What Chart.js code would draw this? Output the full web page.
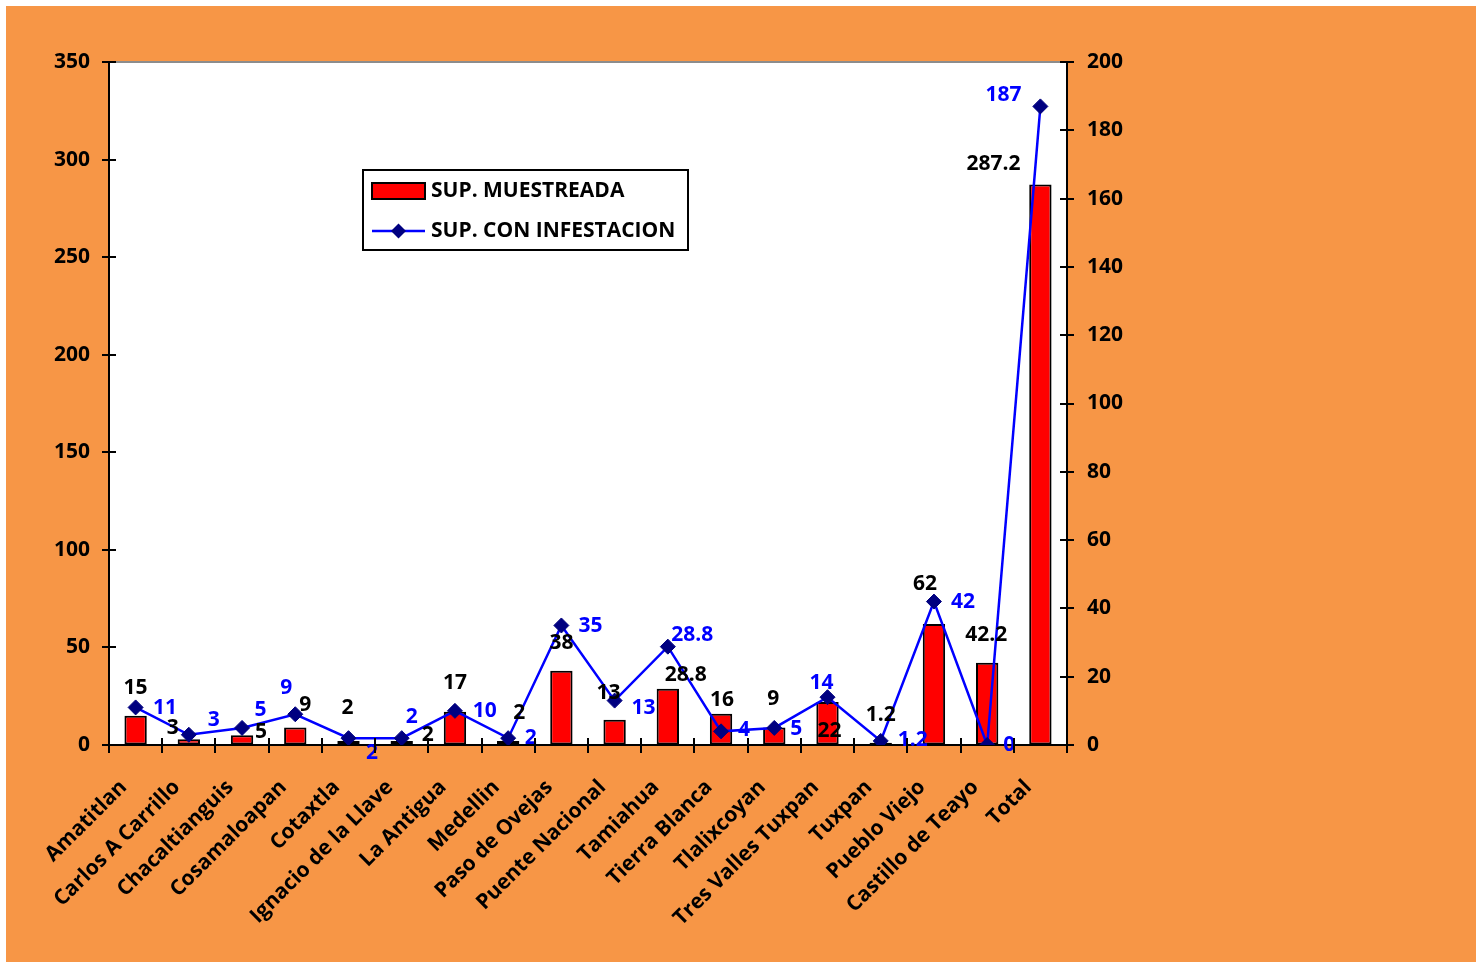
<!DOCTYPE html>
<html>
<head>
<meta charset="utf-8">
<script src="https://cdn.jsdelivr.net/npm/chart.js@4.4.1/dist/chart.umd.min.js"></script>
<style>
html,body{margin:0;padding:0;background:#ffffff;}
canvas{display:block;}
</style>
</head>
<body>
<canvas id="c" width="1476" height="962"></canvas>
<script>
// ---------- DATA ----------
const categories = ['Amatitlan','Carlos A Carrillo','Chacaltianguis','Cosamaloapan','Cotaxtla','Ignacio de la Llave','La Antigua','Medellin','Paso de Ovejas','Puente Nacional','Tamiahua','Tierra Blanca','Tlalixcoyan','Tres Valles Tuxpan','Tuxpan','Pueblo Viejo','Castillo de Teayo','Total'];
const supMuestreada = [15, 3, 5, 9, 2, 2, 17, 2, 38, 13, 28.8, 16, 9, 22, 1.2, 62, 42.2, 287.2];
const supInfestacion = [11, 3, 5, 9, 2, 2, 10, 2, 35, 13, 28.8, 4, 5, 14, 1.2, 42, 0, 187];
const seriesNames = ['SUP. MUESTREADA', 'SUP. CON INFESTACION'];
const leftAxisTicks = [0, 50, 100, 150, 200, 250, 300, 350];
const rightAxisTicks = [0, 20, 40, 60, 80, 100, 120, 140, 160, 180, 200];

// ---------- STYLE (label nudges in px, relative to the mark) ----------
const barLabelDX = [0, -16, 19, 10, -1, 26, 0, 11, 0, -6, 18, 1, -1, 2, 0, -9, -1, -47];
const barLabelDY = [-28, -11.5, -3, -22, -33.5, -6.5, -29, -28.5, -28, -27, -14, -14, -28, 28.5, -28, -40, -28, -21];
const lineLabelDX = [29.5, 25, 18.5, -9, 23.5, 10, 29.7, 22.5, 29, 29, 24.5, 23, 22, -6, 32, 29, 22, -37];
const lineLabelDY = [1, -15, -17.5, -26, 15, -20.7, 0, 0, 1, 7.5, -11.5, -1, 1.5, -13.7, -1, 0, 0, -11.5];

const FONT = '"Open Sans", "Noto Sans", sans-serif';
const ORANGE = '#F79646';

const bgPlugin = {
  id: 'bg',
  beforeDraw(chart) {
    const {ctx, chartArea: a} = chart;
    ctx.save();
    ctx.fillStyle = '#ffffff';
    ctx.fillRect(0, 0, chart.width, chart.height);
    ctx.fillStyle = ORANGE;
    ctx.fillRect(6, 6, chart.width - 6, chart.height - 6);
    ctx.fillStyle = '#ffffff';
    ctx.fillRect(a.left, a.top, a.right - a.left, a.bottom - a.top);
    ctx.strokeStyle = '#8c8c8c';
    ctx.lineWidth = 2;
    ctx.beginPath();
    ctx.moveTo(a.left, a.top);
    ctx.lineTo(a.right, a.top);
    ctx.stroke();
    ctx.restore();
  }
};

const tickPlugin = {
  id: 'crossTicks',
  afterDraw(chart) {
    const {ctx, chartArea: a} = chart;
    const sy = chart.scales.y, sy1 = chart.scales.y1, sx = chart.scales.x;
    ctx.save();
    ctx.strokeStyle = '#000';
    ctx.lineWidth = 2;
    ctx.beginPath();
    leftAxisTicks.forEach(v => {
      const p = Math.round(sy.getPixelForValue(v));
      ctx.moveTo(a.left - 7, p); ctx.lineTo(a.left + 7, p);
    });
    rightAxisTicks.forEach(v => {
      const p = Math.round(sy1.getPixelForValue(v));
      ctx.moveTo(a.right - 7, p); ctx.lineTo(a.right + 7, p);
    });
    for (let i = 0; i <= categories.length; i++) {
      let p;
      if (i === 0) p = a.left;
      else if (i === categories.length) p = a.right;
      else p = Math.round((sx.getPixelForValue(i - 1) + sx.getPixelForValue(i)) / 2);
      ctx.moveTo(p, a.bottom - 7); ctx.lineTo(p, a.bottom + 8);
    }
    ctx.stroke();
    ctx.restore();
  }
};

const labelPlugin = {
  id: 'dataLabels',
  afterDatasetsDraw(chart) {
    const {ctx} = chart;
    ctx.save();
    ctx.font = 'bold 21px ' + FONT;
    ctx.textAlign = 'center';
    ctx.textBaseline = 'middle';
    const barMeta = chart.getDatasetMeta(0);
    const lineMeta = chart.getDatasetMeta(1);
    ctx.fillStyle = '#000000';
    barMeta.data.forEach((el, i) => {
      ctx.fillText(String(supMuestreada[i]), el.x + barLabelDX[i], el.y + barLabelDY[i]);
    });
    ctx.fillStyle = '#0000FF';
    lineMeta.data.forEach((el, i) => {
      ctx.fillText(String(supInfestacion[i]), el.x + lineLabelDX[i], el.y + lineLabelDY[i]);
    });
    ctx.restore();
  }
};

const legendPlugin = {
  id: 'customLegend',
  afterDraw(chart) {
    const {ctx} = chart;
    const bx = 363, by = 170, bw = 325, bh = 80;
    ctx.save();
    ctx.fillStyle = '#ffffff';
    ctx.fillRect(bx, by, bw, bh);
    ctx.strokeStyle = '#000';
    ctx.lineWidth = 2;
    ctx.strokeRect(bx, by, bw, bh);
    ctx.fillStyle = '#FF0000';
    ctx.fillRect(372, 183, 53, 16);
    ctx.strokeRect(372, 183, 53, 16);
    ctx.strokeStyle = '#0000FF';
    ctx.lineWidth = 2.5;
    ctx.beginPath();
    ctx.moveTo(372, 231); ctx.lineTo(425, 231);
    ctx.stroke();
    ctx.fillStyle = '#000080';
    ctx.beginPath();
    const cx = 398.5, cy = 231, r = 7.5;
    ctx.moveTo(cx - r, cy); ctx.lineTo(cx, cy - r); ctx.lineTo(cx + r, cy); ctx.lineTo(cx, cy + r); ctx.closePath();
    ctx.fill();
    ctx.fillStyle = '#000';
    ctx.font = 'bold 21px ' + FONT;
    ctx.textAlign = 'left';
    ctx.textBaseline = 'middle';
    ctx.fillText(seriesNames[0], 431, 191);
    ctx.fillText(seriesNames[1], 431, 231);
    ctx.restore();
  }
};

const tickFont = {family: FONT, weight: 'bold', size: 21};

new Chart(document.getElementById('c'), {
  type: 'bar',
  data: {
    labels: categories,
    datasets: [
      {
        type: 'bar',
        label: seriesNames[0],
        data: supMuestreada,
        yAxisID: 'y',
        backgroundColor: '#FF0000',
        borderColor: '#000000',
        borderWidth: 2,
        borderSkipped: false,
        categoryPercentage: 1,
        barPercentage: 0.42,
        order: 2
      },
      {
        type: 'line',
        label: seriesNames[1],
        data: supInfestacion,
        yAxisID: 'y1',
        borderColor: '#0000FF',
        borderWidth: 2.5,
        tension: 0,
        pointStyle: 'rectRot',
        pointRadius: 7.5,
        pointBackgroundColor: '#000080',
        pointBorderColor: '#000080',
        pointBorderWidth: 1,
        order: 1
      }
    ]
  },
  options: {
    responsive: false,
    animation: false,
    devicePixelRatio: 1,
    layout: {padding: {left: 0, right: 0, top: 62, bottom: 0}},
    plugins: {legend: {display: false}, tooltip: {enabled: false}},
    scales: {
      x: {
        offset: true,
        grid: {display: true, drawOnChartArea: false, drawTicks: false, offset: true},
        border: {display: true, color: '#000', width: 2},
        ticks: {
          font: tickFont, color: '#000',
          minRotation: 45, maxRotation: 45, autoSkip: false,
          padding: 30, labelOffset: -12
        },
        afterFit(s) { s.height = 217; }
      },
      y: {
        position: 'left',
        min: 0, max: 350,
        grid: {display: true, drawOnChartArea: false, drawTicks: false},
        border: {display: true, color: '#000', width: 2},
        ticks: {stepSize: 50, font: tickFont, color: '#000', padding: 19},
        afterFit(s) { s.width = 109; }
      },
      y1: {
        position: 'right',
        min: 0, max: 200,
        grid: {display: true, drawOnChartArea: false, drawTicks: false},
        border: {display: true, color: '#000', width: 2},
        ticks: {stepSize: 20, font: tickFont, color: '#000', padding: 20},
        afterFit(s) { s.width = 409; }
      }
    }
  },
  plugins: [bgPlugin, labelPlugin, tickPlugin, legendPlugin]
});
</script>
</body>
</html>
